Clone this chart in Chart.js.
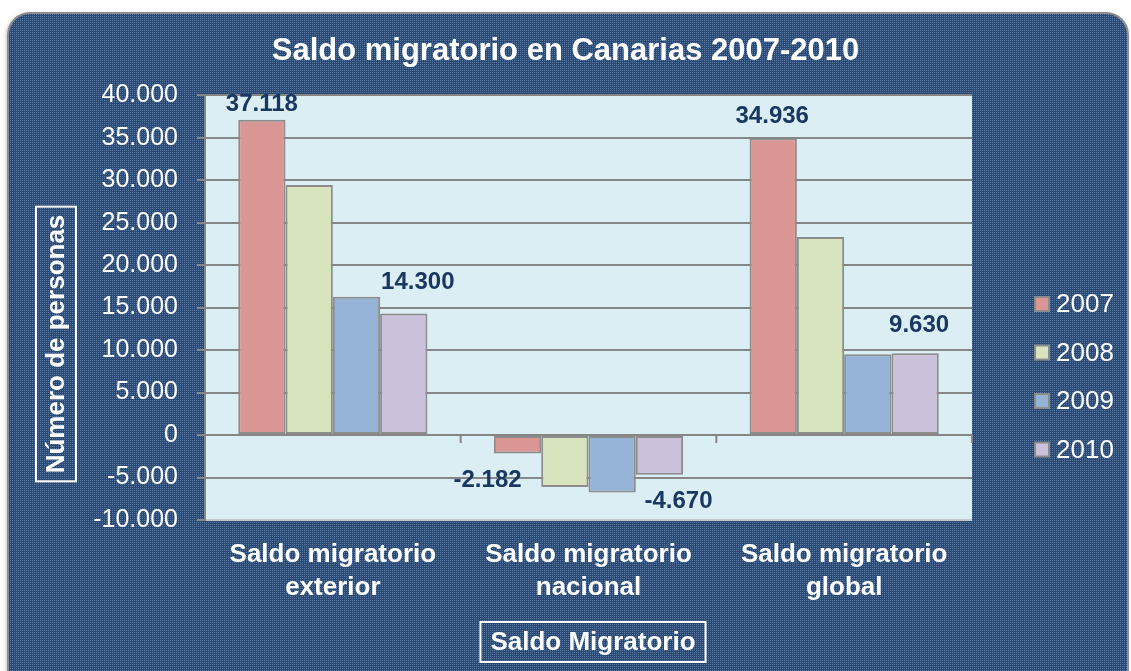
<!DOCTYPE html>
<html>
<head>
<meta charset="utf-8">
<script src="https://cdn.jsdelivr.net/npm/chart.js@4"></script>
<style>
  html, body { margin: 0; padding: 0; background: #fff; }
  #wrap { width: 1131px; height: 671px; }
</style>
</head>
<body>
<div id="wrap"><canvas id="myChart" width="1131" height="671"></canvas></div>
<script>
// data
const categories = [['Saldo migratorio', 'exterior'], ['Saldo migratorio', 'nacional'], ['Saldo migratorio', 'global']]
const years = ['2007', '2008', '2009', '2010']
const v2007 = [37118, -2182, 34936]
const v2008 = [29430, -6110, 23320]
const v2009 = [16270, -6770, 9500]
const v2010 = [14300, -4670, 9630]
const yTicks = { min: -10000, max: 40000, step: 5000 }

const colors = ['#d99694', '#d7e4bd', '#95b3d7', '#ccc1da']
const FONT = "'Liberation Sans', Arial, sans-serif"

// 37118 -> 37.118
const fmt = v => {
    const s = Math.abs(v).toString().replace(/\B(?=(\d{3})+(?!\d))/g, '.')
    return (v < 0 ? '-' : '') + s
}

// dotted navy pattern for the card
const makePattern = (ctx) => {
    const c = document.createElement('canvas')
    c.width = 4; c.height = 4
    const p = c.getContext('2d')
    p.fillStyle = '#294972'
    p.fillRect(0, 0, 4, 4)
    p.fillStyle = '#5b7ba4'
    p.fillRect(0, 0, 1, 1); p.fillRect(2, 0, 1, 1)
    p.fillRect(0, 2, 1, 1); p.fillRect(2, 2, 1, 1)
    return ctx.createPattern(c, 'repeat')
}

const background = {
    id: 'background',
    beforeDraw(chart) {
        const {ctx, chartArea} = chart
        ctx.save()
        ctx.fillStyle = '#fff'
        ctx.fillRect(0, 0, chart.width, chart.height)
        ctx.shadowColor = 'rgba(0,0,0,0.35)'
        ctx.shadowBlur = 4
        ctx.shadowOffsetX = -1
        ctx.shadowOffsetY = 1
        ctx.beginPath()
        ctx.roundRect(8, 13, 1120, 680, 22)
        ctx.fillStyle = makePattern(ctx)
        ctx.fill()
        ctx.shadowColor = 'transparent'
        ctx.lineWidth = 2
        ctx.strokeStyle = '#8c8c8c'
        ctx.stroke()
        ctx.fillStyle = '#dbeef4'
        ctx.fillRect(chartArea.left, chartArea.top, chartArea.right - chartArea.left, chartArea.bottom - chartArea.top)
        ctx.restore()
    }
}

// small ticks on the zero line between categories
const zeroTicks = {
    id: 'zeroTicks',
    afterDatasetsDraw(chart) {
        const {ctx, scales: {x, y}} = chart
        const y0 = y.getPixelForValue(0)
        const xs = [x.left]
        for (let i = 1; i < categories.length; i++) xs.push((x.getPixelForValue(i - 1) + x.getPixelForValue(i)) / 2)
        xs.push(x.right)
        ctx.save()
        ctx.strokeStyle = '#868686'
        ctx.lineWidth = 2
        xs.forEach(px => {
            ctx.beginPath()
            ctx.moveTo(px, y0)
            ctx.lineTo(px, y0 + 8)
            ctx.stroke()
        })
        ctx.restore()
    }
}

// value labels for 2007 and 2010 only
const valueLabels = {
    id: 'valueLabels',
    afterDatasetsDraw(chart, args, opts) {
        const {ctx} = chart
        ctx.save()
        ctx.font = 'bold 24px ' + FONT
        ctx.fillStyle = '#193761'
        ctx.textAlign = 'center'
        ctx.textBaseline = 'middle'
        opts.series.forEach(di => {
            const meta = chart.getDatasetMeta(di)
            meta.data.forEach((bar, i) => {
                const v = chart.data.datasets[di].data[i]
                const off = opts.offsets[di][i]
                ctx.fillText(fmt(v), bar.x + off[0], bar.y + off[1])
            })
        })
        ctx.restore()
    }
}

// boxed axis titles + legend on the right
const decorations = {
    id: 'decorations',
    afterDraw(chart, args, opts) {
        const {ctx} = chart
        ctx.save()
        ctx.font = 'bold 26px ' + FONT
        ctx.fillStyle = '#fff'
        ctx.strokeStyle = '#fff'
        ctx.lineWidth = 2
        ctx.textAlign = 'center'
        ctx.textBaseline = 'middle'

        // y title
        const yt = opts.yTitle
        let w = ctx.measureText(yt.text).width + 16
        ctx.save()
        ctx.translate(yt.x, yt.y)
        ctx.rotate(-Math.PI / 2)
        ctx.strokeRect(-w / 2, -20, w, 40)
        ctx.fillText(yt.text, 0, 1)
        ctx.restore()

        // x title
        const xt = opts.xTitle
        w = ctx.measureText(xt.text).width + 20
        ctx.strokeRect(xt.x - w / 2, xt.y - 20, w, 40)
        ctx.fillText(xt.text, xt.x, xt.y + 1)

        // legend
        const lg = opts.legend
        ctx.font = '26px ' + FONT
        ctx.textAlign = 'left'
        chart.data.datasets.forEach((ds, i) => {
            const cy = lg.y + i * lg.gap
            ctx.fillStyle = ds.backgroundColor
            ctx.fillRect(lg.x, cy - 7, 14, 14)
            ctx.strokeStyle = '#8c8c8c'
            ctx.strokeRect(lg.x, cy - 7, 14, 14)
            ctx.fillStyle = '#fff'
            ctx.fillText(ds.label, lg.x + 21, cy + 1)
        })
        ctx.restore()
    }
}

const seriesData = [v2007, v2008, v2009, v2010]
const datasets = years.map((yr, i) => ({
    label: yr,
    data: seriesData[i],
    backgroundColor: colors[i],
    borderColor: '#8c8c8c',
    borderWidth: 2,
    borderSkipped: false,
    categoryPercentage: 0.74,
    barPercentage: 1
}))

const myChartRef = document.getElementById('myChart').getContext('2d')

new Chart(myChartRef, {
    type: 'bar',
    data: {
        labels: categories,
        datasets: datasets
    },
    options: {
        responsive: false,
        animation: false,
        layout: { padding: 0 },
        scales: {
            x: {
                grid: { display: false, drawTicks: false },
                border: { display: false },
                ticks: {
                    color: '#fff',
                    font: { family: FONT, size: 26, weight: 'bold', lineHeight: 1.25 },
                    padding: 19,
                    maxRotation: 0
                },
                afterFit(scale) { scale.height = 151 }
            },
            y: {
                min: yTicks.min,
                max: yTicks.max,
                grid: {
                    color: ctx => ctx.tick && ctx.tick.value === yTicks.min ? '#c0c8cc' : '#868686',
                    lineWidth: 2,
                    tickLength: 8,
                    tickColor: '#868686'
                },
                border: { display: true, color: '#868686', width: 2 },
                ticks: {
                    stepSize: yTicks.step,
                    color: '#fff',
                    font: { family: FONT, size: 25 },
                    padding: 19,
                    callback: v => fmt(v)
                },
                afterFit(scale) { scale.width = 205 }
            },
            // empty right axis, only reserves room for the legend
            legendSpace: {
                position: 'right',
                grid: { display: false, drawTicks: false },
                border: { display: false },
                ticks: { display: false },
                afterFit(scale) { scale.width = 159 }
            }
        },
        plugins: {
            legend: { display: false },
            tooltip: { enabled: false },
            title: {
                display: true,
                text: 'Saldo migratorio en Canarias 2007-2010',
                color: '#fff',
                font: { family: FONT, size: 31, weight: 'bold', lineHeight: 1.2 },
                padding: { top: 33, bottom: 25 }
            },
            valueLabels: {
                series: [0, 3],
                offsets: {
                    0: [[0, -15], [-30, 27], [-1, -22]],
                    3: [[14, -31], [19, 27], [4, -28]]
                }
            },
            decorations: {
                yTitle: { text: 'Número de personas', x: 56, y: 344 },
                xTitle: { text: 'Saldo Migratorio', x: 593, y: 642 },
                legend: { x: 1035, y: 304, gap: 48.5 }
            }
        }
    },
    plugins: [background, zeroTicks, valueLabels, decorations]
})
</script>
</body>
</html>
